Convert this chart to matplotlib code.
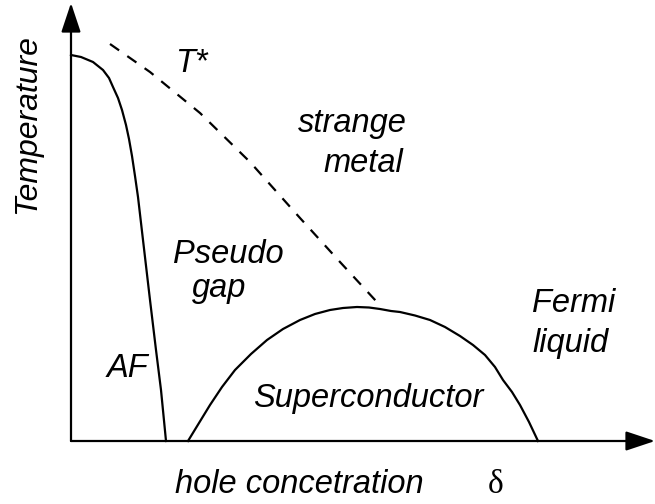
import matplotlib.pyplot as plt

plt.rcParams['font.family'] = ['Liberation Sans', 'DejaVu Sans']

# phase boundaries (x: doping, y: temperature, arbitrary units)
af_x = [0, 10, 22, 32, 38, 42, 47, 51, 55, 58, 61, 64, 67, 72, 79, 85, 90, 95]
af_y = [386, 384, 379, 371, 363, 354, 343, 331, 316, 302, 285, 265, 244, 201,
        141, 91, 51, 0]

tstar_x = [39, 79, 129, 179, 229, 269, 305]
tstar_y = [397, 369, 328, 279, 223, 179, 140]

sc_x = [117, 128, 139, 151, 164, 180, 196, 212, 229, 244, 259, 272, 286, 298,
        309, 320, 329, 344, 359, 374, 389, 402, 414, 424, 432, 441, 449, 458, 467]
sc_y = [0, 18, 36, 54, 71, 87, 101, 112, 121, 127, 131, 133, 134, 133.5,
        132, 130, 129, 125.5, 121, 114, 105, 96, 86, 74, 61, 49, 36, 19, 0]

fig = plt.figure(figsize=(6.55, 5.04), dpi=100)
ax = fig.add_axes([0, 0, 1, 1])
ax.set_xlim(-71, 584)
ax.set_ylim(-63, 441)
ax.axis('off')

ax.plot(af_x, af_y, color='black', lw=1.6, solid_joinstyle='round')
ax.plot(tstar_x, tstar_y, color='black', lw=1.6, dashes=(5, 4.5))
ax.plot(sc_x, sc_y, color='black', lw=1.6, solid_joinstyle='round')

arrow = dict(arrowstyle='-|>,head_length=0.9,head_width=0.3', lw=1.6,
             color='black', mutation_scale=20, shrinkA=0, shrinkB=0)
ax.annotate('', xy=(584, 0), xytext=(0, 0), arrowprops=arrow)
ax.annotate('', xy=(0, 438), xytext=(0, 0), arrowprops=arrow)

txt = dict(fontsize=23.5, style='italic', va='baseline', ha='left')
ax.text(104, 369, 'T*', **txt)
ax.text(227, 309, 'strange', **txt)
ax.text(252, 269, 'metal', **txt)
ax.text(102, 178, 'Pseudo', **txt)
ax.text(121, 144, 'gap', **txt)
ax.text(461, 129, 'Fermi', **txt)
ax.text(461, 89, 'liquid', **txt)
ax.text(36, 64, 'AF', **txt)
ax.text(182, 34, 'Superconductor', **txt)
ax.text(104, -52, 'hole concetration', **txt)
ax.text(417, -52, 'δ', fontsize=24, va='baseline', ha='left',
        family=['Liberation Serif', 'DejaVu Serif'])
ax.text(-44, 317, 'Temperature', fontsize=23, style='italic', rotation=90,
        ha='center', va='center')

fig.savefig('out.png', dpi=100)
